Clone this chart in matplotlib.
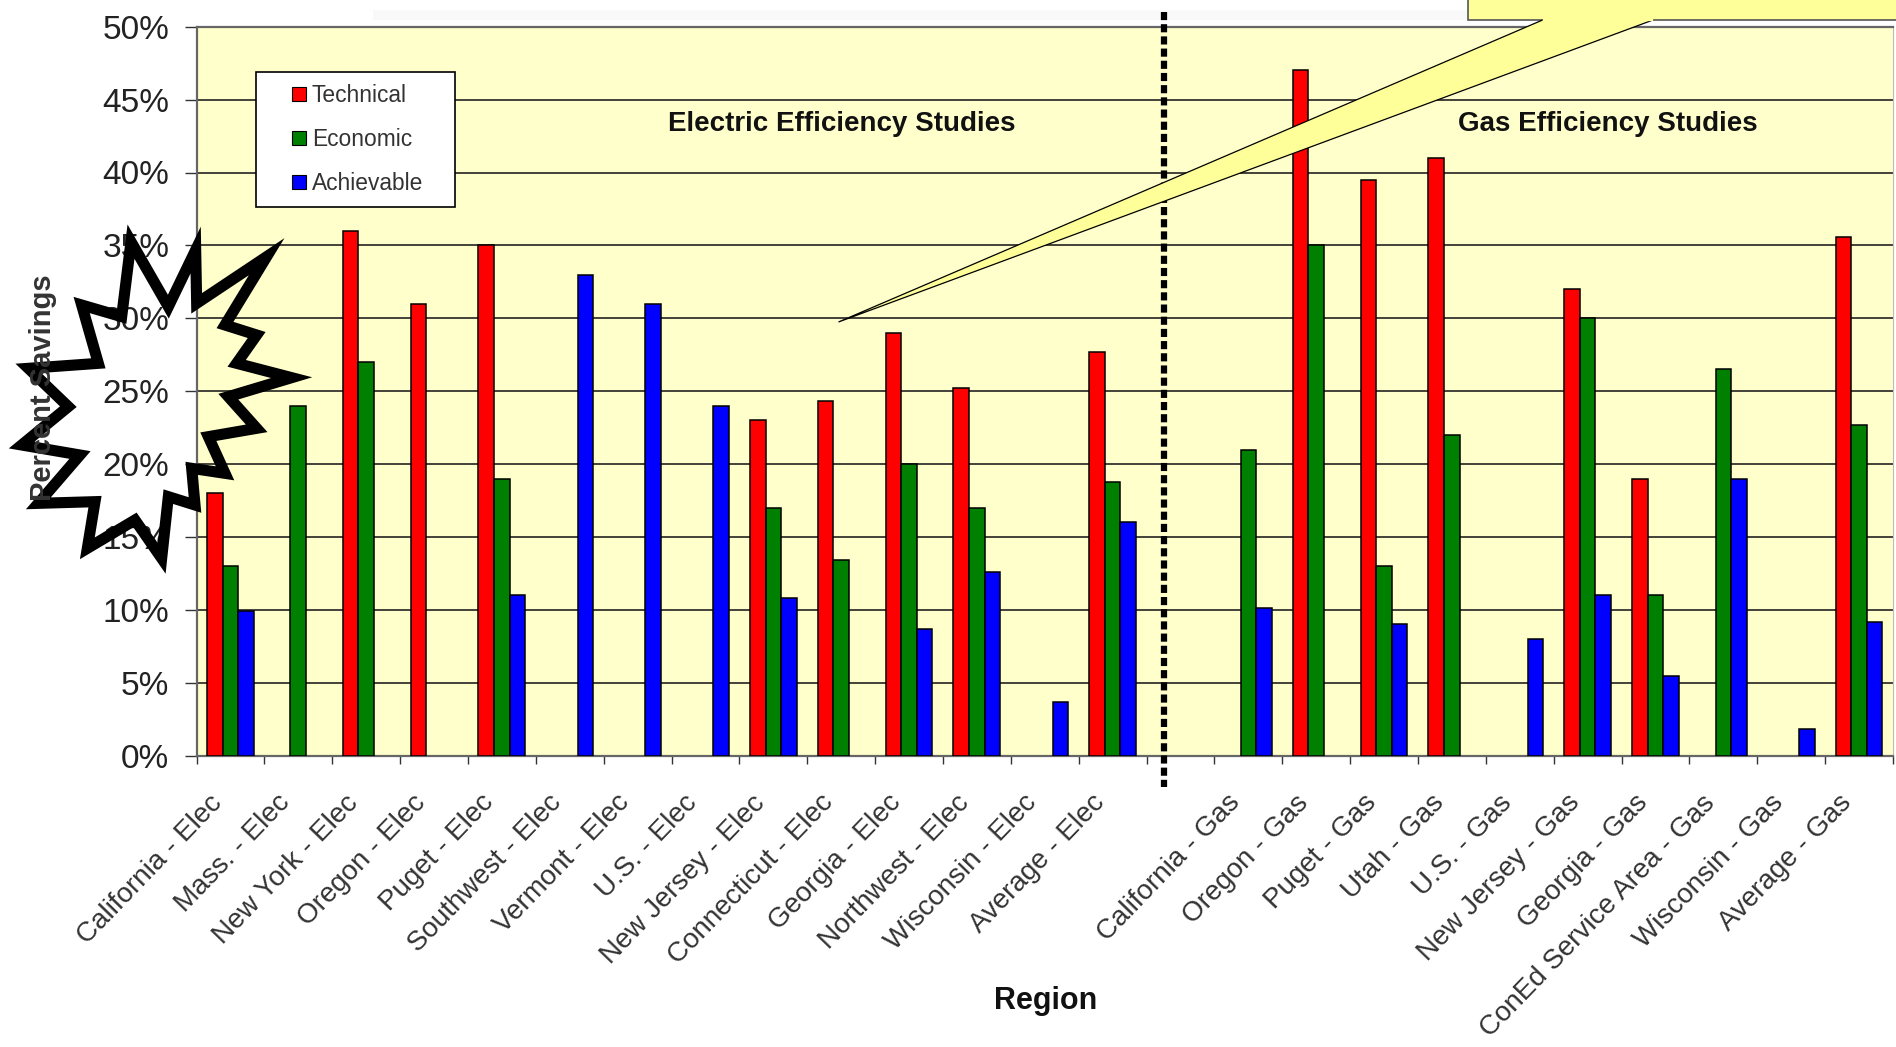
import matplotlib
matplotlib.use("Agg")
import matplotlib.pyplot as plt
from matplotlib.patches import Patch, Polygon, Rectangle
from matplotlib.transforms import ScaledTranslation
import numpy as np

plt.rcParams['font.family'] = ['Liberation Sans', 'DejaVu Sans']

regions = ["California - Elec", "Mass. - Elec", "New York - Elec", "Oregon - Elec",
           "Puget - Elec", "Southwest - Elec", "Vermont - Elec", "U.S. - Elec",
           "New Jersey - Elec", "Connecticut - Elec", "Georgia - Elec",
           "Northwest - Elec", "Wisconsin - Elec", "Average - Elec", "",
           "California - Gas", "Oregon - Gas", "Puget - Gas", "Utah - Gas",
           "U.S. - Gas", "New Jersey - Gas", "Georgia - Gas",
           "ConEd Service Area - Gas", "Wisconsin - Gas", "Average - Gas"]

# percent savings, 0 where a study gave no figure
technical = [18, 0, 36, 31, 35, 0, 0, 0, 23, 24.3, 29, 25.2, 0, 27.7, 0,
             0, 47, 39.5, 41, 0, 32, 19, 0, 0, 35.6]
economic = [13, 24, 27, 0, 19, 0, 0, 0, 17, 13.4, 20, 17, 0, 18.8, 0,
            21, 35, 13, 22, 0, 30, 11, 26.5, 0, 22.7]
achievable = [9.9, 0, 0, 0, 11, 33, 31, 24, 10.8, 0, 8.7, 12.6, 3.7, 16, 0,
              10.1, 0, 9, 0, 8, 11, 5.5, 19, 1.8, 9.2]

series_names = ["Technical", "Economic", "Achievable"]
series_colors = ["#FF0000", "#008000", "#0000FF"]
y_ticks = [0, 5, 10, 15, 20, 25, 30, 35, 40, 45, 50]

W, H = 1896, 1047
fig = plt.figure(figsize=(W / 100, H / 100), dpi=100, facecolor="white")
ax = fig.add_axes([196.5 / W, 1 - 755.7 / H, 1696.5 / W, 729 / H], facecolor="#FFFFCC")

x = np.arange(len(regions)) + 0.5
bar_w = 0.23
for k, vals in enumerate([technical, economic, achievable]):
    vals = np.array(vals, dtype=float)
    keep = vals > 0
    ax.bar(x[keep] + (k - 1) * bar_w, vals[keep], bar_w, color=series_colors[k],
           edgecolor="black", linewidth=1.1, zorder=3)

ax.set_xlim(0, len(regions))
ax.set_ylim(0, 50)
ax.set_yticks(y_ticks)
ax.set_yticklabels(["%d%%" % v for v in y_ticks], fontsize=24, color="#222222")
ax.yaxis.grid(True, color="#222222", linewidth=1.2, zorder=1)
ax.set_axisbelow(True)
ax.tick_params(axis="y", length=8.6, width=1, color="#333333", pad=11)

# ticks sit between the groups, labels under the group centres
ax.set_xticks(np.arange(len(regions) + 1))
ax.set_xticklabels([])
ax.set_xticks(x, minor=True)
ax.set_xticklabels(regions, minor=True, rotation=46, ha="right", va="center",
                   rotation_mode="anchor", fontsize=20, color="#333333")
ax.tick_params(axis="x", which="major", length=6, width=1, color="#333333")
ax.tick_params(axis="x", which="minor", length=0, pad=31)
shift = ScaledTranslation(-12 / 100, 0, fig.dpi_scale_trans)
for lab in ax.get_xticklabels(minor=True):
    lab.set_transform(lab.get_transform() + shift)

for side in ["top", "left", "bottom"]:
    ax.spines[side].set_color("#666666")
    ax.spines[side].set_linewidth(1.6)
ax.spines["right"].set_color("#BBBBBB")

fig.text(1046 / W, 1 - 1001 / H, "Region", fontsize=22, fontweight="bold",
         ha="center", va="center", color="#111111")
fig.text(43 / W, 1 - 388 / H, "Percent Savings", fontsize=21, fontweight="bold",
         rotation=90, ha="center", va="center", color="#333333")

ax.text(842 / W, 1 - 124 / H, "Electric Efficiency Studies", transform=fig.transFigure,
        fontsize=20, fontweight="bold", ha="center", va="center", color="#111111", zorder=4)
ax.text(1608 / W, 1 - 124 / H, "Gas Efficiency Studies", transform=fig.transFigure,
        fontsize=20, fontweight="bold", ha="center", va="center", color="#111111", zorder=4)

# legend box is drawn separately, its padding differs left and top
ax.add_patch(Rectangle((256 / W, 1 - 207 / H), 199 / W, 135 / H, transform=fig.transFigure,
                       facecolor="white", edgecolor="black", linewidth=1.2, zorder=5))
handles = [Patch(facecolor=c, edgecolor="black", linewidth=0.8) for c in series_colors]
leg = ax.legend(handles, series_names, loc="upper left", fontsize=16.4,
                bbox_to_anchor=(292 / W, 1 - 84 / H), bbox_transform=fig.transFigure,
                borderaxespad=0, borderpad=0, frameon=False, handlelength=0.62,
                handleheight=0.62, handletextpad=0.25, labelspacing=0.92)
leg.set_zorder(6)
for t in leg.get_texts():
    t.set_color("#333333")

# overlay in pixel coordinates for the callout, divider and starburst
over = fig.add_axes([0, 0, 1, 1], facecolor="none")
over.set_xlim(0, W)
over.set_ylim(H, 0)
over.axis("off")

over.add_patch(Rectangle((373, 10), 1095, 10, facecolor="#F9F9F9", edgecolor="none", zorder=1))

over.plot([1164, 1164], [12, 787], color="black", linewidth=4.5,
          linestyle=(0, (1.3, 0.65)), zorder=2)

over.add_patch(Rectangle((1468, -10), 440, 30, facecolor="#FFFF99", edgecolor="#555555",
                         linewidth=1.2, zorder=3))
over.add_patch(Polygon([(1542.6, 20), (838.5, 322), (1653, 20)], closed=False,
                       facecolor="#FFFF99", edgecolor="black", linewidth=0.9, zorder=4))
over.plot([1544, 1652], [20, 20], color="#FFFF99", linewidth=1.6, zorder=5)

# starburst is outline only, the labels show through it
star_zoom = [(393, 125), (505, 320), (587, 150), (590, 310), (800, 170), (675, 375),
             (770, 405), (710, 490), (875, 533), (685, 590), (770, 685), (625, 710),
             (675, 820), (575, 805), (585, 915), (505, 890), (485, 1075), (405, 960),
             (262, 1045), (285, 905), (115, 910), (240, 765), (65, 735), (205, 620),
             (85, 505), (295, 490), (245, 315), (365, 350)]
star_px = [(a / 3, 200 + b / 3) for a, b in star_zoom]
over.add_patch(Polygon(star_px, closed=True, facecolor="none", edgecolor="black",
                       linewidth=8, joinstyle="miter", zorder=6))

fig.savefig("out.png", dpi=100, facecolor="white")
